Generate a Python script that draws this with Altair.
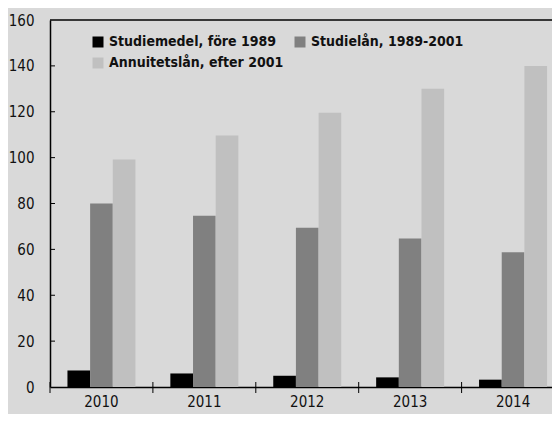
import altair as alt
import pandas as pd

years = ["2010", "2011", "2012", "2013", "2014"]
series = ["Studiemedel, före 1989", "Studielån, 1989-2001", "Annuitetslån, efter 2001"]
studiemedel = [7.2, 5.9, 4.9, 4.2, 3.2]
studielan = [80.0, 74.7, 69.4, 64.7, 58.7]
annuitetslan = [99.2, 109.6, 119.6, 130.0, 140.0]
colors = ["#000000", "#808080", "#c0c0c0"]
y_ticks = [0, 20, 40, 60, 80, 100, 120, 140, 160]

FONT = "DejaVu Sans Condensed, Roboto, sans-serif"
W = 502
H = 367

rows = []
for name, vals in zip(series, [studiemedel, studielan, annuitetslan]):
    for yr, v in zip(years, vals):
        rows.append({"year": yr, "serie": name, "value": v})
df = pd.DataFrame(rows)

xscale = alt.Scale(domain=years, range=[0, 514.5], paddingInner=0, paddingOuter=0)
yscale = alt.Scale(domain=[0, 160], nice=False)

bars = alt.Chart(df).mark_bar().encode(
    x=alt.X("year:N", scale=xscale, title=None,
            axis=alt.Axis(labelAngle=0, ticks=False, domainColor="#000000",
                          domainWidth=1.5, labelFont=FONT, labelFontSize=15,
                          labelColor="#111111", labelPadding=7)),
    xOffset=alt.XOffset("serie:N", scale=alt.Scale(domain=series, paddingOuter=0.77, paddingInner=0)),
    y=alt.Y("value:Q", scale=yscale, title=None,
            axis=alt.Axis(values=y_ticks, ticks=False, grid=False, domainColor="#000000",
                          domainWidth=1.5, labelFont=FONT, labelFontSize=15,
                          labelColor="#111111", labelPadding=16)),
    color=alt.Color("serie:N", scale=alt.Scale(domain=series, range=colors),
                    legend=alt.Legend(title=None, orient="none", legendX=41, legendY=15,
                                      columns=2, direction="horizontal",
                                      columnPadding=9, rowPadding=7,
                                      symbolType="square", symbolSize=121,
                                      symbolStrokeWidth=0, labelFont=FONT,
                                      labelFontSize=14, labelFontWeight="bold",
                                      labelLimit=400,
                                      labelColor="#111111", labelOffset=4)),
)

ytick_df = pd.DataFrame({"v": y_ticks[1:-1]})
yticks = alt.Chart(ytick_df).mark_rule(color="#000000", strokeWidth=1).encode(
    y=alt.Y("v:Q", scale=yscale),
    x=alt.value(0), x2=alt.value(5),
)

xtick_df = pd.DataFrame({"year": years})
xticks = alt.Chart(xtick_df).mark_rule(color="#000000", strokeWidth=1).encode(
    x=alt.X("year:N", scale=xscale, bandPosition=0),
    y=alt.value(H - 5), y2=alt.value(H + 6),
)

top_df = pd.DataFrame({"v": [160]})
top = alt.Chart(top_df).mark_rule(color="#000000", strokeWidth=1.5).encode(
    y=alt.Y("v:Q", scale=yscale),
    x=alt.value(0), x2=alt.value(W),
)

chart = alt.layer(bars, yticks, xticks, top).properties(
    width=W, height=H, background="#d9d9d9",
    autosize=alt.AutoSizeParams(type="none"),
    padding={"left": 42, "top": 12, "right": 0, "bottom": 27},
).configure_view(stroke=None)

chart.save("out.html", embed_options={"renderer": "svg", "actions": False})
